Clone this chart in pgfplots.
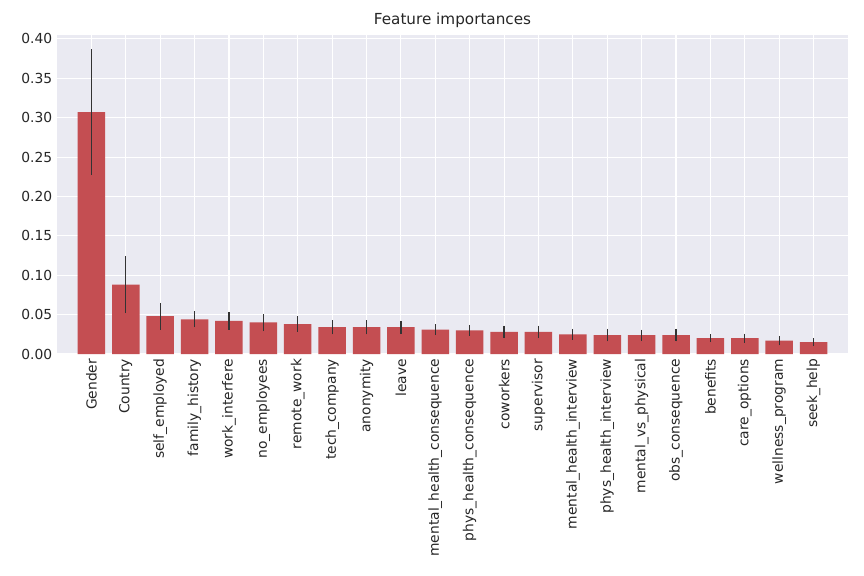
\documentclass[border=0pt]{standalone}
\usepackage{pgfplots}
\pgfplotsset{compat=1.18}
\usepackage{fontspec}
\setmainfont{DejaVu Sans}
\definecolor{bg}{HTML}{EAEAF2}
\definecolor{barc}{HTML}{C44E52}
\begin{document}
\begin{tikzpicture}
\useasboundingbox (-0.57in,-2.22in) rectangle (8.07in,3.54in);
\begin{axis}[
  at={(0,0)}, anchor=south west,
  scale only axis, width=7.91in, height=3.19in,
  xmin=-1, xmax=22, ymin=0, ymax=0.405,
  axis background/.style={fill=bg},
  axis line style={draw=none},
  grid=major, major grid style={white, line width=0.8pt},
  tick style={draw=none},
  xtick={0,...,21},
  xticklabels={Gender,Country,self\_employed,family\_history,work\_interfere,no\_employees,remote\_work,tech\_company,anonymity,leave,mental\_health\_consequence,phys\_health\_consequence,coworkers,supervisor,mental\_health\_interview,phys\_health\_interview,mental\_vs\_physical,obs\_consequence,benefits,care\_options,wellness\_program,seek\_help},
  xticklabel style={rotate=90, anchor=east, font=\fontsize{10}{12}\selectfont, text=black!85},
  ytick={0,0.05,...,0.4},
  yticklabel style={/pgf/number format/.cd, fixed, fixed zerofill, precision=2, /tikz/.cd, font=\fontsize{10}{12}\selectfont, text=black!85},
  /pgf/number format/assume math mode=true,
  title={Feature importances}, title style={font=\fontsize{11}{13}\selectfont, text=black!85, yshift=-4pt},
]
\addplot[ybar, bar width=0.8, fill=barc, draw=none,
  error bars/.cd, y dir=both, y explicit, error bar style={black!80, line width=0.9pt}, error mark=none]
coordinates {
(0,0.307) +- (0,0.080)
(1,0.088) +- (0,0.036)
(2,0.048) +- (0,0.017)
(3,0.044) +- (0,0.010)
(4,0.042) +- (0,0.011)
(5,0.040) +- (0,0.011)
(6,0.038) +- (0,0.010)
(7,0.034) +- (0,0.009)
(8,0.034) +- (0,0.009)
(9,0.034) +- (0,0.008)
(10,0.031) +- (0,0.007)
(11,0.030) +- (0,0.007)
(12,0.028) +- (0,0.008)
(13,0.028) +- (0,0.008)
(14,0.025) +- (0,0.007)
(15,0.024) +- (0,0.008)
(16,0.024) +- (0,0.007)
(17,0.024) +- (0,0.008)
(18,0.020) +- (0,0.005)
(19,0.020) +- (0,0.006)
(20,0.017) +- (0,0.006)
(21,0.015) +- (0,0.005)
};
\end{axis}
\end{tikzpicture}
\end{document}
